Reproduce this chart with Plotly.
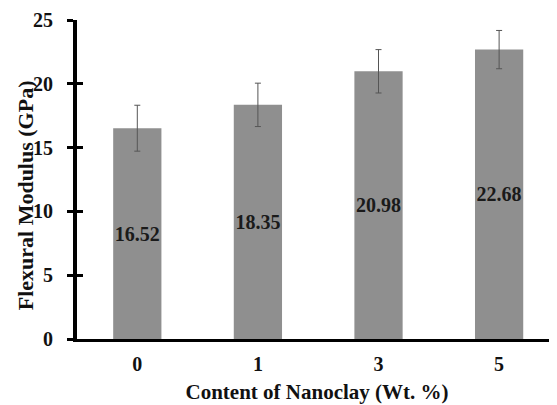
import plotly.graph_objects as go

categories = ["0", "1", "3", "5"]
modulus = [16.52, 18.35, 20.98, 22.68]
errors = [1.8, 1.7, 1.7, 1.5]
y_ticks = [0, 5, 10, 15, 20, 25]

SERIF = "Liberation Serif, Times New Roman, serif"

fig = go.Figure()
fig.add_trace(go.Bar(
    x=categories, y=modulus, width=0.4,
    marker=dict(color="#8f8f8f", line=dict(width=0)),
    error_y=dict(type="data", array=errors, color="#555555", thickness=1, width=3),
    texttemplate="%{y:.2f}", textposition="inside", insidetextanchor="middle",
    textangle=0, constraintext="none",
    textfont=dict(family=SERIF, size=20, color="#1a1a1a", weight="bold"),
    showlegend=False,
))
# empty helper trace so the overlaid axis (inner half of the crossing ticks) is drawn
fig.add_trace(go.Scatter(x=[], y=[], yaxis="y2", showlegend=False, hoverinfo="skip"))

fig.update_layout(
    width=549, height=397, autosize=False,
    margin=dict(l=69, r=0, t=12, b=66, autoexpand=False),
    plot_bgcolor="white", paper_bgcolor="white",
    uniformtext=dict(minsize=20, mode="show"),
    xaxis=dict(
        type="category", range=[-0.5, 3.48], automargin=False,
        showline=True, linecolor="black", linewidth=3,
        ticks="", showgrid=False, zeroline=False,
        tickfont=dict(family=SERIF, size=20, color="#111111", weight="bold"),
        ticklabelstandoff=5,
        title=dict(text="Content of Nanoclay (Wt. %)",
                   font=dict(family=SERIF, size=21, color="#111111", weight="bold"),
                   standoff=11),
    ),
    yaxis=dict(
        range=[0, 25], tickvals=y_ticks, automargin=False,
        showline=True, linecolor="black", linewidth=4,
        ticks="outside", ticklen=6, tickwidth=3, tickcolor="black",
        showgrid=False, zeroline=False,
        tickfont=dict(family=SERIF, size=20, color="#111111", weight="bold"),
        ticklabelstandoff=10,
    ),
    yaxis2=dict(
        overlaying="y", side="left", range=[0, 25], tickvals=y_ticks,
        automargin=False,
        ticks="inside", ticklen=6, tickwidth=3, tickcolor="black",
        showticklabels=False, showgrid=False, zeroline=False, showline=False,
    ),
    annotations=[dict(
        text="Flexural Modulus (GPa)", textangle=-90,
        xref="paper", yref="paper", x=-0.108, y=0.451,
        xanchor="center", yanchor="middle", showarrow=False,
        font=dict(family=SERIF, size=22, color="#111111", weight="bold"),
    )],
)

fig.write_html("out.html")
